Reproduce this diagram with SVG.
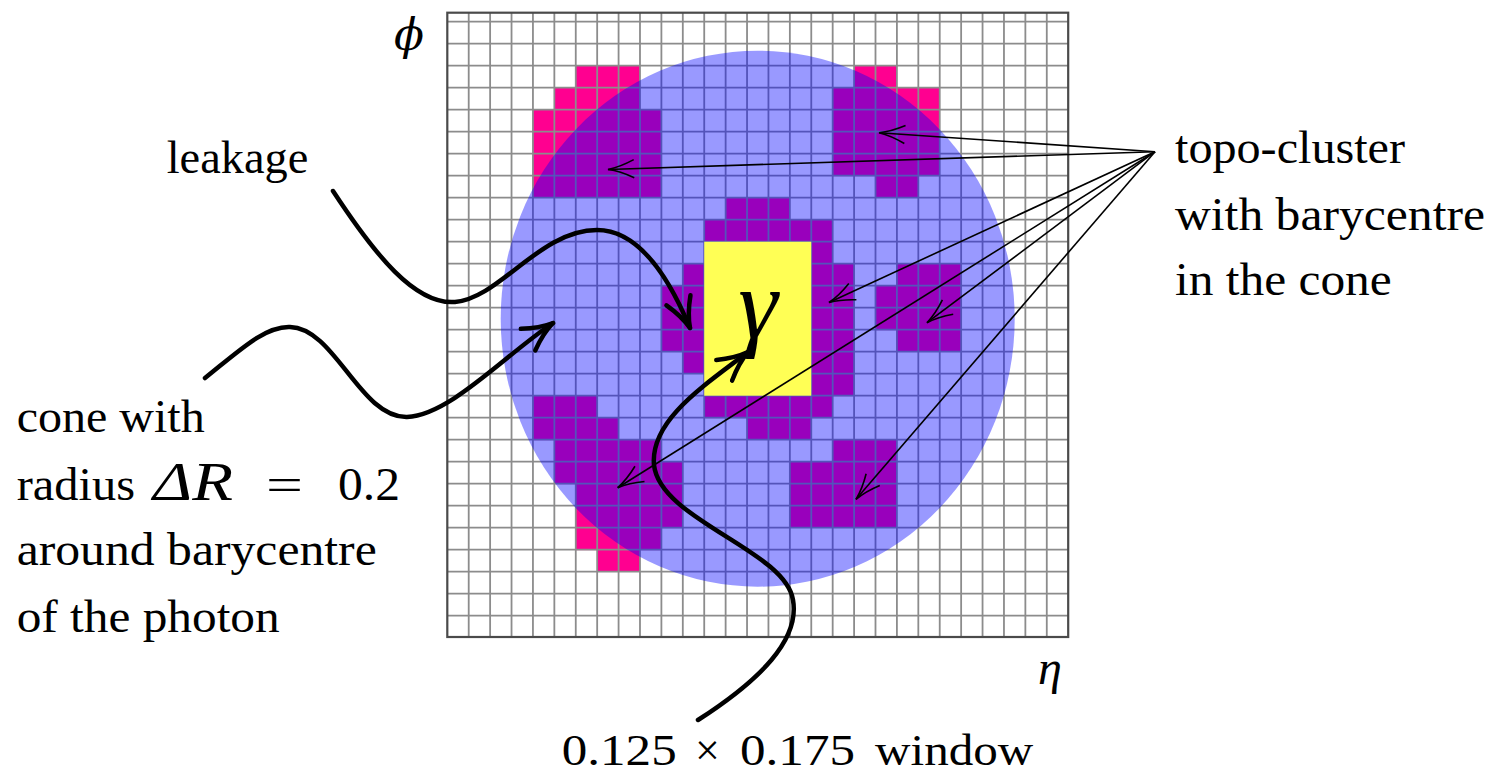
<svg xmlns="http://www.w3.org/2000/svg" width="1491" height="776" viewBox="0 0 1491 776">
<style>
.txt{font-family:"Liberation Serif","Times New Roman",serif;font-size:46px;fill:#000}
.it{font-style:italic}
.cell{fill:#ff0090}
.grid{stroke:#8c8c8c;stroke-width:1.8;fill:none}
.thin{stroke:#000;stroke-width:1.6;fill:none}
.thick{stroke:#000;stroke-width:4.5;fill:none;stroke-linecap:round}
</style>
<defs>
<marker id="ahThin" markerUnits="userSpaceOnUse" viewBox="-30 -12 32 24" refX="0" refY="0" markerWidth="32" markerHeight="24" orient="auto" overflow="visible">
<path d="M-26,-9 Q-12,-2 0,0 Q-12,2 -26,9" fill="none" stroke="#000" stroke-width="1.6"/>
</marker>
<marker id="ahThick" markerUnits="userSpaceOnUse" viewBox="-34 -16 36 32" refX="0" refY="0" markerWidth="36" markerHeight="32" orient="auto" overflow="visible">
<path d="M-30,-13 Q-14,-3 0,0 Q-14,3 -30,13" fill="none" stroke="#000" stroke-width="4.5" stroke-linecap="round" stroke-linejoin="round"/>
</marker>
</defs>
<rect width="1491" height="776" fill="#fff"/>

<g id="clusters" transform="matrix(21.41 0 0 22 447.3 21.7)">
<g id="cluster-top-left" class="cell">
<rect x="6" y="2" width="3" height="1"/><rect x="5" y="3" width="4" height="1.02"/><rect x="4" y="4" width="6" height="4"/>
</g>
<g id="cluster-top-right" class="cell">
<rect x="19" y="2" width="2" height="1.02"/><rect x="18" y="3" width="5" height="4.02"/><rect x="20" y="7" width="2" height="1"/>
</g>
<g id="cluster-central" class="cell">
<rect x="13" y="8" width="3" height="1.02"/><rect x="12" y="9" width="6" height="1.02"/><rect x="17" y="10" width="1" height="1.02"/>
<rect x="11" y="11" width="1" height="5"/><rect x="17" y="11" width="2" height="6.02"/><rect x="10" y="12" width="1.02" height="3"/>
<rect x="12" y="17" width="6" height="1.02"/><rect x="14" y="18" width="3" height="1"/>
</g>
<g id="cluster-mid-right" class="cell">
<rect x="21" y="11" width="3" height="1.02"/><rect x="20" y="12" width="4" height="2.02"/><rect x="21" y="14" width="3" height="1"/>
</g>
<g id="cluster-bottom-left" class="cell">
<rect x="4" y="17" width="3" height="1.02"/><rect x="4" y="18" width="4" height="1.02"/><rect x="5" y="19" width="5" height="1.02"/>
<rect x="5" y="20" width="6" height="1.02"/><rect x="6" y="21" width="5" height="2.02"/><rect x="6" y="23" width="4" height="1.02"/><rect x="7" y="24" width="2" height="1"/>
</g>
<g id="cluster-bottom-right" class="cell">
<rect x="18" y="19" width="3" height="1.02"/><rect x="16" y="20" width="5" height="3"/>
</g>
</g>

<g id="grid" class="grid">
<path d="M468.71,12.7V637M490.12,12.7V637M511.53,12.7V637M532.94,12.7V637M554.35,12.7V637M575.76,12.7V637M597.17,12.7V637M618.58,12.7V637M639.99,12.7V637M661.4,12.7V637M682.81,12.7V637M704.22,12.7V637M725.63,12.7V637M747.04,12.7V637M768.45,12.7V637M789.86,12.7V637M811.27,12.7V637M832.68,12.7V637M854.09,12.7V637M875.5,12.7V637M896.91,12.7V637M918.32,12.7V637M939.73,12.7V637M961.14,12.7V637M982.55,12.7V637M1003.96,12.7V637M1025.37,12.7V637M1046.78,12.7V637"/>
<path d="M447.3,21.7H1068.2M447.3,43.7H1068.2M447.3,65.7H1068.2M447.3,87.7H1068.2M447.3,109.7H1068.2M447.3,131.7H1068.2M447.3,153.7H1068.2M447.3,175.7H1068.2M447.3,197.7H1068.2M447.3,219.7H1068.2M447.3,241.7H1068.2M447.3,263.7H1068.2M447.3,285.7H1068.2M447.3,307.7H1068.2M447.3,329.7H1068.2M447.3,351.7H1068.2M447.3,373.7H1068.2M447.3,395.7H1068.2M447.3,417.7H1068.2M447.3,439.7H1068.2M447.3,461.7H1068.2M447.3,483.7H1068.2M447.3,505.7H1068.2M447.3,527.7H1068.2M447.3,549.7H1068.2M447.3,571.7H1068.2M447.3,593.7H1068.2M447.3,615.7H1068.2"/>
<rect x="447.3" y="12.7" width="620.9" height="624.3" stroke="#4a4a4a" stroke-width="2.2"/>
</g>

<g id="cone">
<ellipse cx="757.7" cy="318.7" rx="257" ry="268" fill="#0000ff" fill-opacity="0.4"/>
</g>

<g id="window">
<rect x="704.22" y="241.7" width="107.05" height="154" fill="#ffff55"/>
<text class="txt it" x="758" y="338" text-anchor="middle" style="font-size:100px">γ</text>
</g>

<g id="connectors">
<g class="thin" marker-end="url(#ahThin)">
<path d="M1155,151.7L608,169.5"/>
<path d="M1155,151.7L879,132.7"/>
<path d="M1155,151.7L829,302.5"/>
<path d="M1155,151.7L927,322.7"/>
<path d="M1155,151.7L617.7,487.7"/>
<path d="M1155,151.7L856,499.3"/>
</g>
<g class="thick" marker-end="url(#ahThick)">
<path d="M333,191 C375,255 415,305 455,302 C500,298 540,230 597,230 C640,230 670,280 690,328"/>
<path d="M205,378 C240,350 265,326 290,327 C335,328 360,418 407,417 C450,415 505,355 553,323"/>
<path d="M698,720 C760,680 800,640 793,600 C785,550 660,520 654,465 C650,420 705,385 748,352"/>
</g>
</g>

<g id="labels">
<text class="txt it" x="394" y="50" style="font-family:'DejaVu Serif','Liberation Serif',serif;font-size:44px">ϕ</text>
<text class="txt it" x="1038" y="684" style="font-size:48px">η</text>
<text class="txt" x="166.7" y="173.3" textLength="141.6" lengthAdjust="spacingAndGlyphs">leakage</text>
<text class="txt" x="1175" y="163.3" textLength="230" lengthAdjust="spacingAndGlyphs">topo-cluster</text>
<text class="txt" x="1175" y="230" textLength="310" lengthAdjust="spacingAndGlyphs">with barycentre</text>
<text class="txt" x="1175" y="295" textLength="216.7" lengthAdjust="spacingAndGlyphs">in the cone</text>
<text class="txt" x="16.7" y="431.7" textLength="188" lengthAdjust="spacingAndGlyphs">cone with</text>
<text class="txt" y="500"><tspan x="16.7" textLength="118.3" lengthAdjust="spacingAndGlyphs">radius</tspan><tspan class="it" x="153" style="font-size:54px" textLength="80" lengthAdjust="spacingAndGlyphs">ΔR</tspan><tspan x="266" textLength="37" lengthAdjust="spacingAndGlyphs">=</tspan><tspan x="338" textLength="62" lengthAdjust="spacingAndGlyphs">0.2</tspan></text>
<text class="txt" x="16.7" y="565" textLength="360" lengthAdjust="spacingAndGlyphs">around barycentre</text>
<text class="txt" x="16.7" y="631.7" textLength="263" lengthAdjust="spacingAndGlyphs">of the photon</text>
<text class="txt" y="765" style="font-size:44px"><tspan x="561.7" textLength="115" lengthAdjust="spacingAndGlyphs">0.125</tspan><tspan x="695">×</tspan><tspan x="740" textLength="115" lengthAdjust="spacingAndGlyphs">0.175</tspan><tspan x="875" textLength="158.3" lengthAdjust="spacingAndGlyphs">window</tspan></text>
</g>
</svg>
